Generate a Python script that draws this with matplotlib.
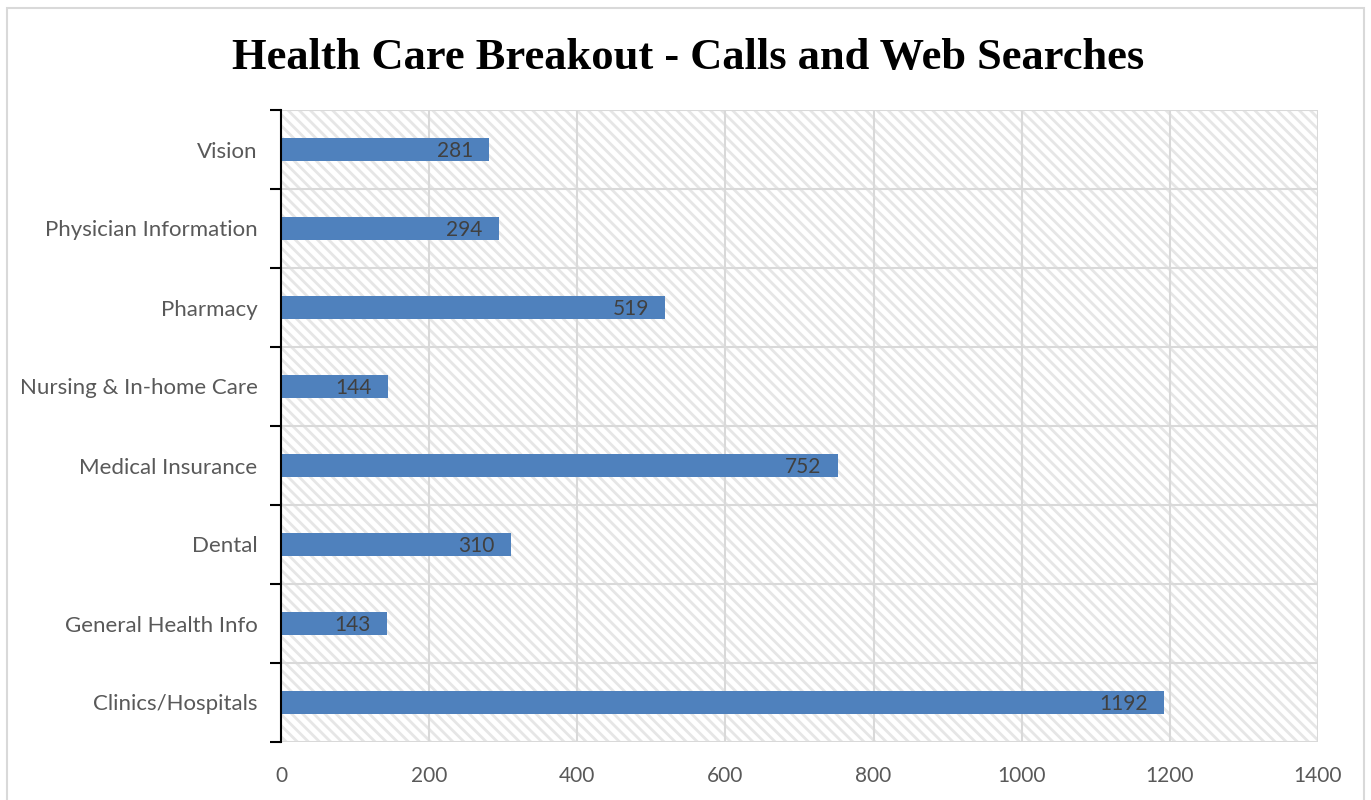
import matplotlib.pyplot as plt
from matplotlib.patches import Rectangle

categories = ["Clinics/Hospitals", "General Health Info", "Dental", "Medical Insurance",
              "Nursing & In-home Care", "Pharmacy", "Physician Information", "Vision"]
values = [1192, 143, 310, 752, 144, 519, 294, 281]
x_ticks = [0, 200, 400, 600, 800, 1000, 1200, 1400]

plt.rcParams['font.family'] = ['Lato', 'DejaVu Sans']
plt.rcParams['hatch.linewidth'] = 2.0
plt.rcParams['hatch.color'] = '#e6e6e6'

fig = plt.figure(figsize=(13.71, 8), dpi=100)
ax = fig.add_axes([0.205, 0.0725, 0.7563, 0.79])

# hatched plot background
ax.add_patch(Rectangle((0, 0), 1, 1, transform=ax.transAxes, facecolor='white',
                       edgecolor='#e6e6e6', hatch='\\\\\\', linewidth=0, zorder=0))

pos = range(len(categories))
bars = ax.barh(pos, values, height=0.28, color='#4f81bd', zorder=3)
for b, v in zip(bars, values):
    ax.text(v - 22, b.get_y() + b.get_height() / 2 - 0.02, str(v), ha='right', va='center',
            fontsize=15, color='#404040', zorder=4)

ax.set_xlim(0, 1400)
ax.set_ylim(-0.5, len(categories) - 0.5)
ax.set_xticks(x_ticks)
ax.set_xticklabels([str(t) for t in x_ticks])
ax.set_yticks([p - 0.5 for p in pos] + [len(categories) - 0.5])
ax.set_yticklabels([])
ax.set_yticks(list(pos), minor=True)
ax.set_yticklabels(categories, minor=True)
ax.tick_params(axis='y', which='major', length=8, width=1.5, color='black')
ax.tick_params(axis='y', which='minor', length=0, pad=17, labelsize=16, labelcolor='#595959')
ax.tick_params(axis='x', length=0, pad=17, labelsize=15, labelcolor='#595959')

ax.grid(True, which='major', color='#d9d9d9', linewidth=1.5, zorder=1)
ax.set_axisbelow(True)
for s in ['top', 'right', 'bottom']:
    ax.spines[s].set_visible(False)
ax.spines['left'].set_color('black')
ax.spines['left'].set_linewidth(1.5)
ax.spines['left'].set_zorder(5)

fig.text(0.502, 0.927, "Health Care Breakout - Calls and Web Searches", ha='center', va='center',
         fontsize=32, fontweight='bold', family='Liberation Serif')

fig.patches.append(Rectangle((0.005, -0.01), 0.99, 1.0, transform=fig.transFigure,
                             fill=False, edgecolor='#d9d9d9', linewidth=1.5))

fig.savefig("out.png", dpi=100)
